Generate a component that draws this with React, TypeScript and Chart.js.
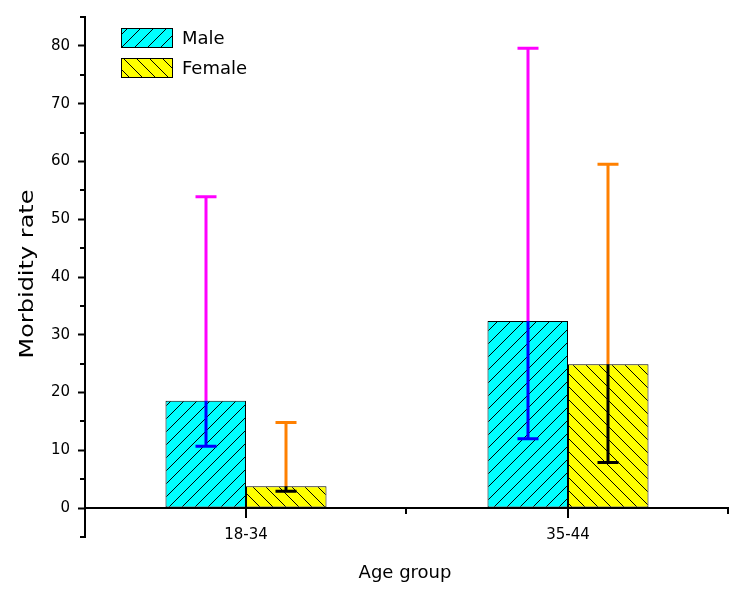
import React, { useEffect, useRef } from 'react';
import { Chart, registerables } from 'chart.js';

Chart.register(...registerables);

const categories = ['18-34', '35-44'];
const seriesLabels = ['Male', 'Female'];
const maleValues = [18.6, 32.4];
const femaleValues = [3.8, 24.9];
const maleUpper = [53.9, 79.6];
const maleLower = [10.7, 12.0];
const femaleUpper = [14.8, 59.5];
const femaleLower = [2.9, 7.9];
const yTickValues = [-5, 0, 5, 10, 15, 20, 25, 30, 35, 40, 45, 50, 55, 60, 65, 70, 75, 80, 85];
const yLabelValues = [0, 10, 20, 30, 40, 50, 60, 70, 80];
const xTitle = 'Age group';
const yTitle = 'Morbidity rate';

const FONT = '"DejaVu Sans", Verdana, sans-serif';

function makeHatch(bg: string, dir: 'up' | 'down', size = 13): CanvasPattern {
  const c = document.createElement('canvas');
  c.width = size;
  c.height = size;
  const g = c.getContext('2d')!;
  g.fillStyle = bg;
  g.fillRect(0, 0, size, size);
  g.fillStyle = '#000';
  for (let i = 0; i < size; i++) {
    const y = dir === 'up' ? size - 1 - i : i;
    g.fillRect(i, y, 1, 1);
  }
  return g.createPattern(c, 'repeat')!;
}

export default function App() {
  const ref = useRef<HTMLCanvasElement | null>(null);

  useEffect(() => {
    const canvas = ref.current;
    if (!canvas) return;
    const malePattern = makeHatch('#00FFFF', 'up');
    const femalePattern = makeHatch('#FFFF00', 'down');
    const patterns = [malePattern, femalePattern];
    const uppers = [maleUpper, femaleUpper];
    const lowers = [maleLower, femaleLower];
    const upColors = ['#FF00FF', '#FF8000'];
    const lowColors = ['#0000FF', '#000000'];

    const decor = {
      id: 'decor',
      afterDatasetsDraw(chart: any) {
        const ctx: CanvasRenderingContext2D = chart.ctx;
        const xs = chart.scales.x;
        const ys = chart.scales.y;
        const area = chart.chartArea;
        ctx.save();
        // error bars
        chart.data.datasets.forEach((ds: any, di: number) => {
          const meta = chart.getDatasetMeta(di);
          meta.data.forEach((bar: any, i: number) => {
            const x = Math.round(bar.x);
            const yTop = ys.getPixelForValue(ds.data[i]);
            const yUp = ys.getPixelForValue(uppers[di][i]);
            const yLo = ys.getPixelForValue(lowers[di][i]);
            ctx.lineWidth = 3;
            ctx.strokeStyle = upColors[di];
            ctx.beginPath();
            ctx.moveTo(x, yTop);
            ctx.lineTo(x, yUp);
            ctx.moveTo(x - 10.5, yUp);
            ctx.lineTo(x + 10.5, yUp);
            ctx.stroke();
            ctx.strokeStyle = lowColors[di];
            ctx.beginPath();
            ctx.moveTo(x, yTop);
            ctx.lineTo(x, yLo);
            ctx.moveTo(x - 10.5, yLo);
            ctx.lineTo(x + 10.5, yLo);
            ctx.stroke();
          });
        });
        // x axis at value 0
        const y0 = Math.round(ys.getPixelForValue(0));
        ctx.strokeStyle = '#000';
        ctx.lineWidth = 2;
        ctx.beginPath();
        ctx.moveTo(area.left, y0);
        ctx.lineTo(area.right, y0);
        categories.forEach((_, i) => {
          const x = Math.round(xs.getPixelForValue(i));
          ctx.moveTo(x, y0);
          ctx.lineTo(x, y0 + 10);
          const xb = Math.round(xs.getPixelForValue(i) + (xs.getPixelForValue(1) - xs.getPixelForValue(0)) / 2);
          ctx.moveTo(xb - 1, y0);
          ctx.lineTo(xb - 1, y0 + 6);
        });
        // y minor ticks
        yTickValues.forEach((v) => {
          if (yLabelValues.includes(v)) return;
          const y = Math.round(ys.getPixelForValue(v));
          ctx.moveTo(area.left - 5, y);
          ctx.lineTo(area.left, y);
        });
        ctx.stroke();
        // x labels
        ctx.fillStyle = '#000';
        ctx.font = `15px ${FONT}`;
        ctx.textAlign = 'center';
        ctx.textBaseline = 'alphabetic';
        categories.forEach((c, i) => {
          ctx.fillText(c, xs.getPixelForValue(i), y0 + 31);
        });
        // x title
        ctx.font = `18px ${FONT}`;
        ctx.fillText(xTitle, (area.left + area.right) / 2 - 2, 578);
        // y title (stretched)
        ctx.save();
        ctx.translate(33, (area.top + area.bottom) / 2 - 3);
        ctx.rotate(-Math.PI / 2);
        ctx.scale(1.2, 1);
        ctx.font = `20px ${FONT}`;
        ctx.textAlign = 'center';
        ctx.fillText(yTitle, 0, 0);
        ctx.restore();
        // legend
        const lx = area.left + 36;
        const ly = area.top + 11;
        seriesLabels.forEach((lab, i) => {
          const by = ly + i * 30;
          ctx.fillStyle = patterns[i];
          ctx.fillRect(lx, by, 52, 20);
          ctx.strokeStyle = '#000';
          ctx.lineWidth = 1;
          ctx.strokeRect(lx + 0.5, by + 0.5, 51, 19);
          ctx.fillStyle = '#000';
          ctx.font = `18px ${FONT}`;
          ctx.textAlign = 'left';
          ctx.textBaseline = 'middle';
          ctx.fillText(lab, lx + 61, by + 11);
        });
        ctx.restore();
      },
    };

    const chart = new Chart(canvas, {
      type: 'bar',
      data: {
        labels: categories,
        datasets: [
          {
            label: seriesLabels[0],
            data: maleValues,
            backgroundColor: malePattern,
            borderColor: '#000',
            borderWidth: 1,
            borderSkipped: false,
          },
          {
            label: seriesLabels[1],
            data: femaleValues,
            backgroundColor: femalePattern,
            borderColor: '#000',
            borderWidth: 1,
            borderSkipped: false,
          },
        ],
      },
      options: {
        responsive: false,
        animation: false,
        layout: { padding: { left: 0, top: 16, right: 11, bottom: 57 } },
        plugins: { legend: { display: false }, tooltip: { enabled: false } },
        datasets: { bar: { categoryPercentage: 0.5, barPercentage: 1 } },
        scales: {
          x: { display: false, offset: true },
          y: {
            min: -5,
            max: 85,
            afterBuildTicks: (s: any) => {
              s.ticks = yTickValues.map((v) => ({ value: v }));
            },
            afterFit: (s: any) => {
              s.width = 85;
            },
            ticks: {
              autoSkip: false,
              padding: 8,
              color: '#000',
              font: { family: FONT, size: 15 },
              callback: (v: any) => (yLabelValues.includes(Number(v)) ? String(v) : ''),
            },
            grid: {
              drawOnChartArea: false,
              drawTicks: true,
              tickLength: 7,
              tickWidth: 2,
              tickColor: (c: any) =>
                c.tick && yLabelValues.includes(c.tick.value) ? '#000' : 'rgba(0,0,0,0)',
            },
            border: { display: true, color: '#000', width: 2 },
          },
        },
      } as any,
      plugins: [decor],
    });
    return () => chart.destroy();
  }, []);

  return (
    <div style={{ position: 'fixed', left: 0, top: 0, width: 740, height: 594, background: '#fff' }}>
      <canvas ref={ref} width={740} height={594} style={{ display: 'block' }} />
    </div>
  );
}
